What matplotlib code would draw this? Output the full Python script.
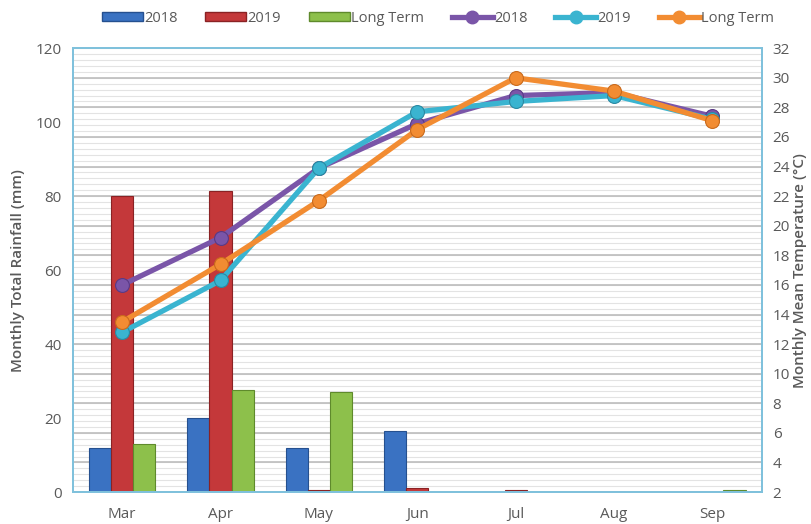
import matplotlib
matplotlib.use("Agg")
import matplotlib.pyplot as plt
import numpy as np
from matplotlib.patches import Patch
from matplotlib.lines import Line2D

months = ["Mar", "Apr", "May", "Jun", "Jul", "Aug", "Sep"]
rain_2018 = [12, 20, 12, 16.4, 0, 0, 0]
rain_2019 = [80, 81.5, 0.5, 1.0, 0.6, 0, 0]
rain_lt = [13, 27.5, 27, 0, 0, 0, 0.6]
temp_2018 = [16.0, 19.2, 23.9, 26.9, 28.8, 29.0, 27.4]
temp_2019 = [12.8, 16.3, 23.9, 27.7, 28.4, 28.8, 27.2]
temp_lt = [13.5, 17.4, 21.7, 26.5, 30.0, 29.1, 27.1]
rain_ticks = [0, 20, 40, 60, 80, 100, 120]
temp_ticks = list(range(2, 33, 2))

plt.rcParams['font.family'] = ['Open Sans', 'DejaVu Sans']

c_blue, c_red, c_green = "#3a72c2", "#c4383a", "#8dc04b"
c_purple, c_cyan, c_orange = "#7a55a8", "#3ab4d0", "#f28c32"
txt = "#595959"
frame = "#7fc1dc"

fig = plt.figure(figsize=(8.11, 5.24), dpi=100)
ax = fig.add_axes([0.090, 0.061, 0.849, 0.847])
ax2 = ax.twinx()

x = np.arange(len(months))
w = 0.225

tmin, tmax = 2, 32
rmin, rmax = 0, 120
def t2r(t):
    return (t - tmin) * (rmax - rmin) / (tmax - tmin)
for t in np.arange(tmin, tmax + 0.001, 0.4):
    ax.axhline(t2r(t), color="#e3e3e3", lw=0.8, zorder=0)
for t in temp_ticks:
    ax.axhline(t2r(t), color="#bdbdbd", lw=1.2, zorder=0.5)

ax.bar(x - w, rain_2018, w, color=c_blue, edgecolor="#25508f", linewidth=0.8, zorder=2)
ax.bar(x, rain_2019, w, color=c_red, edgecolor="#8a2224", linewidth=0.8, zorder=2)
ax.bar(x + w, rain_lt, w, color=c_green, edgecolor="#5f8a2c", linewidth=0.8, zorder=2)

ax.set_xlim(-0.5, len(months) - 0.5)
ax.set_ylim(rmin, rmax)
ax.set_yticks(rain_ticks)
ax.set_xticks(x)
ax.set_xticklabels(months)
ax2.set_ylim(tmin, tmax)
ax2.set_yticks(temp_ticks)

for data, col, ec in [(temp_2018, c_purple, "#5a3a85"), (temp_2019, c_cyan, "#2a8aa3"), (temp_lt, c_orange, "#c96a1c")]:
    ax2.plot(x, data, color=col, lw=3.8, marker="o", markersize=10,
             markerfacecolor=col, markeredgecolor=ec, markeredgewidth=0.8, solid_capstyle="round")

for a in (ax, ax2):
    for s in a.spines.values():
        s.set_color(frame)
        s.set_linewidth(1.3)
    a.tick_params(length=0, colors=txt, labelsize=11)
ax.tick_params(axis="x", pad=11)
ax.tick_params(axis="y", pad=8)
ax2.tick_params(axis="y", pad=8)

ax.set_ylabel("Monthly Total Rainfall (mm)", color=txt, fontsize=11, fontweight="semibold", labelpad=8)
ax2.set_ylabel("Monthly Mean Temperature (\u00b0C)", color=txt, fontsize=11, fontweight="semibold", labelpad=2)

handles = [
    Patch(facecolor=c_blue, edgecolor="#25508f"),
    Patch(facecolor=c_red, edgecolor="#8a2224"),
    Patch(facecolor=c_green, edgecolor="#5f8a2c"),
    Line2D([], [], color=c_purple, lw=3.8, marker="o", markersize=9),
    Line2D([], [], color=c_cyan, lw=3.8, marker="o", markersize=9),
    Line2D([], [], color=c_orange, lw=3.8, marker="o", markersize=9),
]
labels = ["2018", "2019", "Long Term", "2018", "2019", "Long Term"]
leg = fig.legend(handles, labels, loc="upper center", bbox_to_anchor=(0.54, 1.005), ncol=6,
                 frameon=False, fontsize=10.5, handlelength=2.8, handleheight=0.6,
                 handletextpad=0.1, columnspacing=1.9)
for t in leg.get_texts():
    t.set_color(txt)

fig.savefig("out.png", dpi=100)
